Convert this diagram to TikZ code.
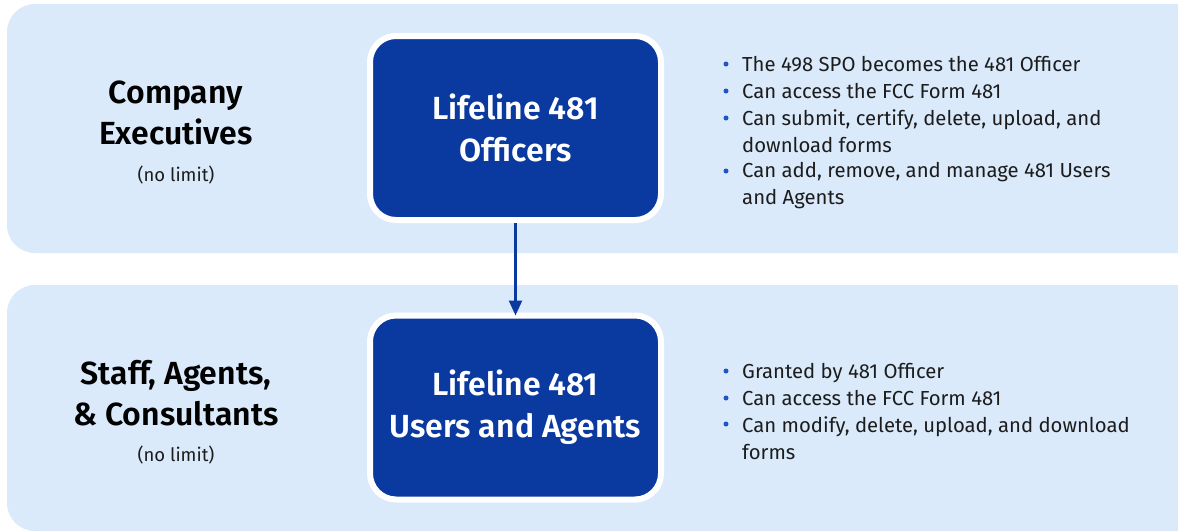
\documentclass[tikz,border=0pt]{standalone}
\usepackage{fontspec}
\setmainfont{Fira Sans}[BoldFont={Fira Sans SemiBold}]
\usetikzlibrary{arrows.meta}
\definecolor{panelblue}{HTML}{DAEAFB}
\definecolor{darkblue}{HTML}{0A3A9F}
\definecolor{bulletblue}{HTML}{2255C4}
\definecolor{txtgray}{HTML}{1C1C1C}
\tikzset{
  panel/.style={fill=panelblue, rounded corners=28pt, draw=none},
  rolebox/.style={fill=darkblue, draw=white, line width=6pt, rounded corners=26pt,
    minimum width=291pt, minimum height=184pt, align=center, text=white,
    font=\fontsize{32}{42}\selectfont\bfseries},
  grouptitle/.style={align=center, text=black, font=\fontsize{32}{41}\selectfont\bfseries},
  nolimit/.style={text=txtgray, font=\fontsize{18.5}{20}\selectfont},
  bul/.style={anchor=north west, align=left, text=txtgray, inner sep=0pt,
    font=\fontsize{20.3}{26.5}\selectfont},
  dot/.style={circle, fill=bulletblue, inner sep=0pt, minimum size=5pt},
  conn/.style={draw=darkblue, line width=2.5pt, shorten >=-3pt,
    -{Triangle[length=15pt,width=13pt]}}
}
\begin{document}
\begin{tikzpicture}[x=1pt,y=-1pt]
\useasboundingbox (0,0) rectangle (1178,531);
\fill[white] (0,0) rectangle (1178,531);
% panels
\path[panel] (7,4) rectangle (1208,253);
\path[panel] (7,285) rectangle (1208,531);

% role boxes
\node[rolebox] (officers) at (515.5,128) {Lifeline 481\\Officers};
\node[rolebox] (users) at (515.5,407.5) {Lifeline 481\\Users and Agents};
\draw[conn] (officers.south) -- (users.north);

% group titles
\node[grouptitle] (exec) at (176,113) {Company\\Executives};
\node[nolimit] (nl1) at (176,175) {(no limit)};
\node[grouptitle] (staff) at (176,393) {Staff, Agents,\\\& Consultants};
\node[nolimit] (nl2) at (176,455) {(no limit)};

% bullets top
\node[bul] (b1) at (742,56.5) {The 498 SPO becomes the 481 Officer};
\node[bul] (b2) at (742,83) {Can access the FCC Form 481};
\node[bul] (b3) at (742,109.5) {Can submit, certify, delete, upload, and\\download forms};
\node[bul] (b4) at (742,162.5) {Can add, remove, and manage 481 Users\\and Agents};
\foreach \y/\n in {64/d1,91/d2,118/d3,171/d4} \node[dot] (\n) at (726,\y) {};

% bullets bottom
\node[bul] (c1) at (742,363.5) {Granted by 481 Officer};
\node[bul] (c2) at (742,390) {Can access the FCC Form 481};
\node[bul] (c3) at (742,416.5) {Can modify, delete, upload, and download\\forms};
\foreach \y/\n in {371/e1,398/e2,424/e3} \node[dot] (\n) at (726,\y) {};
\end{tikzpicture}
\end{document}
